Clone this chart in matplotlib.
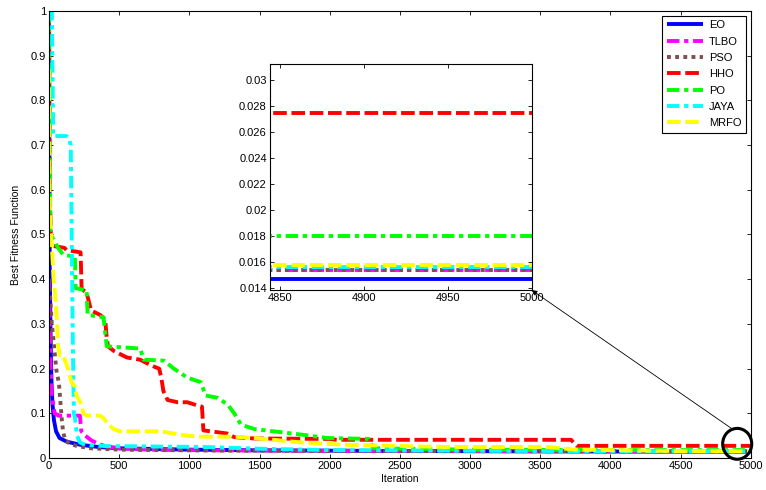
import matplotlib.pyplot as plt
from matplotlib.patches import Ellipse
from matplotlib.ticker import FormatStrFormatter, MultipleLocator

plt.rcParams['font.family'] = ['Liberation Sans', 'DejaVu Sans']
plt.rcParams['font.size'] = 8

# convergence curves (iteration, best fitness)
eo_it = [0, 5, 10, 15, 20, 25, 35, 50, 75, 125, 220, 350, 500, 1000, 1500, 2500, 3500, 4200, 5000]
eo_val = [0.97, 0.42, 0.3, 0.2, 0.15, 0.12, 0.085, 0.06, 0.045, 0.037, 0.03, 0.025, 0.022, 0.019,
          0.0175, 0.016, 0.0152, 0.0147, 0.0147]

tlbo_it = [0, 5, 10, 15, 20, 30, 40, 60, 65, 220, 230, 260, 300, 350, 400, 500, 700, 1000, 1500,
           2500, 3500, 4400, 5000]
tlbo_val = [0.4, 0.3, 0.22, 0.17, 0.14, 0.12, 0.1, 0.097, 0.095, 0.095, 0.06, 0.05, 0.04, 0.032,
            0.027, 0.022, 0.019, 0.018, 0.017, 0.016, 0.0155, 0.0154, 0.0154]

pso_it = [0, 10, 20, 30, 45, 55, 70, 80, 90, 100, 115, 150, 200, 300, 500, 800, 1200, 2000, 3000,
          4200, 5000]
pso_val = [0.4, 0.35, 0.3, 0.27, 0.22, 0.19, 0.17, 0.13, 0.09, 0.06, 0.04, 0.032, 0.027, 0.022,
           0.019, 0.018, 0.017, 0.016, 0.0156, 0.0154, 0.0154]

hho_it = [0, 5, 15, 110, 125, 225, 232, 245, 268, 300, 365, 400, 411, 420, 460, 555, 650, 680, 745,
          785, 800, 815, 845, 915, 985, 1035, 1090, 1100, 1200, 1270, 1320, 1460, 2000, 2050, 3720,
          3760, 5000]
hho_val = [1.0, 0.6, 0.475, 0.47, 0.465, 0.46, 0.38, 0.375, 0.37, 0.33, 0.32, 0.31, 0.27, 0.25,
           0.24, 0.225, 0.22, 0.215, 0.205, 0.2, 0.18, 0.15, 0.13, 0.125, 0.125, 0.12, 0.115, 0.062,
           0.058, 0.055, 0.047, 0.044, 0.043, 0.041, 0.041, 0.0275, 0.0275]

po_it = [0, 5, 10, 30, 65, 100, 184, 190, 268, 275, 388, 411, 650, 674, 818, 890, 985, 1081, 1116,
         1200, 1272, 1320, 1368, 1463, 1600, 1840, 1980, 2280, 2310, 3000, 4000, 5000]
po_val = [1.0, 0.7, 0.5, 0.49, 0.47, 0.455, 0.45, 0.38, 0.375, 0.32, 0.315, 0.25, 0.245, 0.22,
          0.218, 0.2, 0.18, 0.17, 0.14, 0.135, 0.12, 0.1, 0.075, 0.065, 0.06, 0.051, 0.045, 0.043,
          0.022, 0.019, 0.018, 0.018]

jaya_it = [0, 20, 30, 125, 140, 155, 163, 170, 177, 185, 200, 220, 260, 400, 1100, 1500, 2000,
           3000, 4000, 5000]
jaya_val = [1.0, 1.0, 0.72, 0.72, 0.715, 0.7, 0.45, 0.25, 0.1, 0.09, 0.05, 0.035, 0.03, 0.027,
            0.025, 0.021, 0.018, 0.0165, 0.0156, 0.0156]

mrfo_it = [0, 3, 10, 17, 24, 33, 48, 57, 65, 77, 100, 112, 136, 160, 184, 196, 232, 244, 268, 363,
           387, 411, 459, 507, 793, 889, 985, 1081, 1320, 1463, 1800, 2100, 2800, 3550, 3750, 4500,
           5000]
mrfo_val = [0.87, 0.6, 0.52, 0.49, 0.45, 0.4, 0.35, 0.3, 0.25, 0.23, 0.23, 0.22, 0.2, 0.17, 0.16,
            0.14, 0.12, 0.1, 0.095, 0.095, 0.09, 0.08, 0.065, 0.06, 0.06, 0.055, 0.05, 0.048, 0.048,
            0.045, 0.035, 0.03, 0.025, 0.025, 0.019, 0.0158, 0.0158]

series = [
    ("EO", eo_it, eo_val, "#0000ff", "-"),
    ("TLBO", tlbo_it, tlbo_val, "#ff00ff", (0, (3.2, 1.2, 1.1, 1.2))),
    ("PSO", pso_it, pso_val, "#7f4f4f", (0, (1.0, 1.1))),
    ("HHO", hho_it, hho_val, "#ff0000", (0, (3.5, 1.2))),
    ("PO", po_it, po_val, "#00ff00", (0, (3.2, 1.2, 1.1, 1.2))),
    ("JAYA", jaya_it, jaya_val, "#00ffff", (0, (3.2, 1.2, 1.1, 1.2))),
    ("MRFO", mrfo_it, mrfo_val, "#ffff00", (0, (3.5, 1.2))),
]

fig = plt.figure(figsize=(7.66, 4.9), dpi=100)
ax = fig.add_axes([0.064, 0.065, 0.916, 0.913])

for name, it, val, color, ls in series:
    ax.plot(it, val, color=color, linestyle=ls, linewidth=2.8,
            dash_capstyle='butt', solid_capstyle='butt', label=name)

ax.set_xlim(0, 5000)
ax.set_ylim(0, 1)
ax.xaxis.set_major_locator(MultipleLocator(500))
ax.yaxis.set_major_locator(MultipleLocator(0.1))
ax.yaxis.set_major_formatter(FormatStrFormatter('%g'))
ax.tick_params(direction='in', length=3, width=0.6, top=True, right=True, labelsize=8, pad=2)
for sp in ax.spines.values():
    sp.set_linewidth(0.8)
ax.set_xlabel("Iteration", fontsize=7.5, labelpad=2)
ax.set_ylabel("Best Fitness Function", fontsize=7.5, labelpad=7)

leg = ax.legend(loc='upper right', fontsize=8, fancybox=False, framealpha=1,
                edgecolor='black', handlelength=3.3, labelspacing=0.57,
                borderaxespad=0.45, handletextpad=0.5, borderpad=0.4)
leg.get_frame().set_linewidth(0.8)

# zoomed view of the last iterations
ins = fig.add_axes([0.352, 0.408, 0.342, 0.461])
for name, it, val, color, ls in series:
    ins.plot(it, val, color=color, linestyle=ls, linewidth=2.8,
             dash_capstyle='butt', solid_capstyle='butt')
ins.set_xlim(4844, 5000)
ins.set_ylim(0.01385, 0.03123)
ins.xaxis.set_major_locator(MultipleLocator(50))
ins.yaxis.set_major_locator(MultipleLocator(0.002))
ins.yaxis.set_major_formatter(FormatStrFormatter('%g'))
ins.tick_params(direction='in', length=3, width=0.6, top=True, right=True, labelsize=8, pad=2)
for sp in ins.spines.values():
    sp.set_linewidth(0.8)

# marker around the zoomed region and pointer to the inset
ax.add_patch(Ellipse((4904, 0.032), 207, 0.069, fill=False, edgecolor='black',
                     linewidth=2.2, clip_on=False, zorder=5))
ax.annotate("", xy=(5000, 0.01385), xycoords=ins.transData,
            xytext=(4879, 0.063), textcoords=ax.transData,
            arrowprops=dict(arrowstyle='-|>', color='black', lw=0.6,
                            mutation_scale=8, shrinkA=0, shrinkB=0))

fig.savefig("out.png", dpi=100)
